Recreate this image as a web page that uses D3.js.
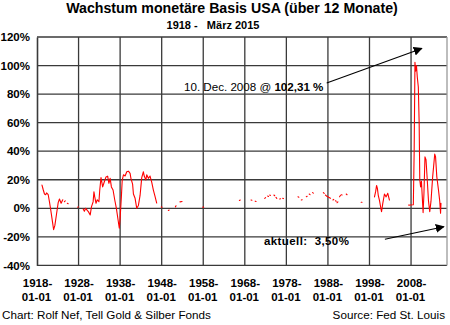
<!DOCTYPE html>
<html>
<head>
<meta charset="utf-8">
<script src="https://cdn.jsdelivr.net/npm/d3@7"></script>
<style>
  html, body { margin: 0; padding: 0; background: #fff; }
  svg { display: block; font-family: "Liberation Sans", Arial, sans-serif; }
</style>
</head>
<body>
<svg id="chart" width="450" height="325"></svg>
<script>
// Year-over-year growth of the US monetary base, in percent.
// null marks a break in the published series.
const years = [
  1919.2, 1919.5, 1919.8, 1920.1, 1920.3, 1920.7, 1921.0, 1921.3, 1921.7, 1922.0,
  1922.3, 1922.7, 1923.1, 1923.4, 1923.8, 1924.2, null,
  1924.6, 1924.8, null,
  1925.3, 1925.5, null,
  1927.8, 1927.95, null,
  1929.1, 1929.4, 1929.7, 1930.1, 1930.4, 1930.8, 1931.1, 1931.5, 1931.7, 1931.9,
  1932.2, 1932.5, 1932.9, 1933.1, 1933.4, 1933.8, 1934.2, 1934.6, 1935.0, 1935.3,
  1935.6, 1935.9, 1936.3, 1936.7, 1937.1, 1937.5, 1937.8, 1938.0, 1938.3, 1938.5,
  1938.8, 1939.2, 1939.6, 1940.0, 1940.4, 1940.6, 1941.0, 1941.2, 1941.6, 1942.0,
  1942.4, 1942.8, 1943.2, 1943.6, 1943.8, 1944.2, 1944.4, 1944.8, 1945.2, 1945.6,
  1946.0, 1946.4, 1946.8, null,
  1947.9, 1948.1, null,
  1949.6, 1949.8, null,
  1951.3, 1951.45, null,
  1952.4, 1952.9, null,
  1957.9, 1958.1, null,
  1966.7, 1966.9, null,
  1969.5, 1969.7, null,
  1970.5, 1970.7, null,
  1972.8, 1973.0, null,
  1973.5, 1973.7, null,
  1974.0, 1974.15, null,
  1975.0, 1975.2, null,
  1975.5, 1975.7, null,
  1976.4, 1976.6, null,
  1977.1, 1977.3, null,
  1980.8, 1981.0, null,
  1981.6, 1981.8, null,
  1982.8, 1983.0, null,
  1983.5, 1983.7, null,
  1984.3, 1984.5, null,
  1986.9, 1987.1, null,
  1987.4, 1987.7, 1988.0, 1988.3, 1988.6, null,
  1989.2, 1989.4, null,
  1989.8, 1990.0, null,
  1990.2, 1990.4, null,
  1990.8, 1991.0, null,
  1991.2, 1991.4, null,
  1992.4, 1992.6, null,
  1996.0, 1996.2, null,
  1999.2, 1999.5, 1999.7, 1999.9, 2000.1, 2000.4, 2000.8, 2000.9, 2001.2, 2001.6,
  2002.0, 2002.4, 2002.8, null,
  2007.4, 2007.6, null,
  2007.8, 2008.55, 2008.75, 2008.94, 2009.1, 2009.3, 2009.5, 2009.75, 2009.95, 2010.1,
  2010.3, 2010.5, 2010.7, 2010.9, 2011.1, 2011.35, 2011.6, 2011.9, 2012.2, 2012.5,
  2012.8, 2013.2, 2013.7, 2013.9, 2014.2, 2014.6, 2014.9, 2015.1, 2015.2
];
const growth = [
  16.3, 13, 10, 9.5, 10.8, 9.5, 4.5, -1, -9, -15,
  -12, -4, 4, 6.5, 3.5, 6, null,
  4.6, 5.2, null,
  3.5, 3.2, null,
  0.8, 1.0, null,
  -0.5, -2, 0, -1.5, -2.5, -4.7, 1, 4.5, 11.5, 8,
  3.5, 6, 4.6, 12.8, 21.5, 15, 18.6, 22, 22.5, 17.5,
  21, 15, 12.8, 6, 0, -8, -14, -7, 8, 19.5,
  23.5, 22.6, 25.6, 26, 24.5, 21, 17, 10, 7, 0,
  2, 9, 21.5, 25.6, 22.6, 19.8, 23.5, 21, 22.6, 18.4,
  12.8, 8.4, 3.7, null,
  1, 0.8, null,
  -1.5, -1.2, null,
  1, 1.8, null,
  4.5, 4.8, null,
  0.8, 0.8, null,
  5.5, 5.8, null,
  5.8, 5.6, null,
  5, 4.8, null,
  7, 7.5, null,
  8.6, 8.3, null,
  9.3, 9, null,
  9.3, 8.8, null,
  7.7, 7, null,
  6.5, 6.7, null,
  7, 6.8, null,
  8.1, 7.8, null,
  5.8, 6, null,
  8.1, 8.4, null,
  10, 9.6, null,
  11, 10.6, null,
  11, 10.5, null,
  9.3, 8.5, 8.1, 7.5, 7, null,
  5.8, 6.2, null,
  5.3, 5, null,
  3.9, 4.5, null,
  8.1, 9, null,
  9.5, 9.3, null,
  10, 9.5, null,
  4.2, 4.2, null,
  8, 12, 16, 14, 9.3, 5.6, -1, -2.4, 3.5, 10,
  8, 10.5, 5.8, null,
  2.3, 2.2, null,
  2.3, 2.5, 40, 102.31, 96, 100, 92, 85, 60, 20,
  15, 19, 8, -3, 10, 36, 34, 20, 5, -2.4,
  5, 22, 38, 36, 22, 12.8, 5, -3.5, 3.5
];

const yTicks = [-40, -20, 0, 20, 40, 60, 80, 100, 120];
const xTickYears = [1918, 1928, 1938, 1948, 1958, 1968, 1978, 1988, 1998, 2008];

const titleText = "Wachstum monetäre Basis USA (über 12 Monate)";
const subtitleText = "1918 -   März 2015";
const creditText = "Chart: Rolf Nef, Tell Gold & Silber Fonds";
const sourceText = "Source: Fed St. Louis";

const peakValue = 102.31;
const latestValue = 3.5;

const svg = d3.select("#chart");
const plot = { left: 37, right: 447, top: 37, bottom: 265.4 };

const x = d3.scaleLinear().domain([1918, 2016.65]).range([plot.left, plot.right]);
const y = d3.scaleLinear().domain([-40, 120]).range([plot.bottom, plot.top]);

// Title block
svg.append("text").attr("x", 232).attr("y", 12.5).attr("text-anchor", "middle")
  .attr("font-size", 14.2).attr("font-weight", "bold").attr("fill", "#000").text(titleText);
svg.append("text").attr("x", 213).attr("y", 28.5).attr("text-anchor", "middle")
  .attr("font-size", 11).attr("font-weight", "bold").attr("fill", "#000")
  .style("white-space", "pre").text(subtitleText);

// Grid
const grid = svg.append("g");
grid.selectAll("line.h").data(yTicks).join("line")
  .attr("x1", plot.left).attr("x2", plot.right)
  .attr("y1", d => y(d)).attr("y2", d => y(d))
  .attr("stroke", "#3a3a3a").attr("stroke-width", 1.3);
grid.selectAll("line.v").data(xTickYears.slice(1)).join("line")
  .attr("x1", d => x(d)).attr("x2", d => x(d))
  .attr("y1", plot.top).attr("y2", plot.bottom)
  .attr("stroke", "#3a3a3a").attr("stroke-width", 1.3);
// Plot frame on the right
svg.append("line").attr("x1", plot.right).attr("x2", plot.right)
  .attr("y1", plot.top).attr("y2", plot.bottom)
  .attr("stroke", "#9a9a9a").attr("stroke-width", 1.3);

// Y axis
const yAxis = svg.append("g").attr("transform", `translate(${plot.left},0)`)
  .call(d3.axisLeft(y).tickValues(yTicks).tickSize(0).tickPadding(7).tickFormat(d => d + "%"));
yAxis.select(".domain").attr("stroke", "#3a3a3a").attr("stroke-width", 1.6);
yAxis.selectAll("text").attr("font-size", 11.5).attr("font-weight", "bold")
  .attr("fill", "#000").attr("font-family", "Liberation Sans, Arial, sans-serif");

// X axis with two-line date labels
const xAxis = svg.append("g").attr("transform", `translate(0,${plot.bottom})`)
  .call(d3.axisBottom(x).tickValues(xTickYears).tickSize(0).tickFormat(""));
xAxis.select(".domain").remove();
xAxis.selectAll(".tick").each(function(d) {
  const t = d3.select(this).append("text").attr("fill", "#000")
    .attr("font-size", 11.5).attr("font-weight", "bold")
    .attr("font-family", "Liberation Sans, Arial, sans-serif")
    .attr("text-anchor", "middle");
  t.append("tspan").attr("x", 0).attr("y", 22).text(d + "-");
  t.append("tspan").attr("x", -1).attr("y", 35.5).text("01-01");
});

// Growth series
const pts = years.map((yr, i) => ({ yr, v: growth[i] }));
const line = d3.line()
  .defined(d => d.yr !== null && d.v !== null)
  .x(d => x(d.yr)).y(d => y(d.v));
svg.append("path").datum(pts).attr("d", line)
  .attr("fill", "none").attr("stroke", "#ff0000").attr("stroke-width", 1.1)
  .attr("stroke-linejoin", "round").attr("stroke-linecap", "round");

// Annotations
const defs = svg.append("defs");
defs.append("marker").attr("id", "head").attr("viewBox", "0 0 10 10")
  .attr("refX", 9).attr("refY", 5).attr("markerWidth", 9).attr("markerHeight", 9)
  .attr("markerUnits", "userSpaceOnUse").attr("orient", "auto")
  .append("path").attr("d", "M0,0 L10,5 L0,10 Z").attr("fill", "#000");

const peakLabel = svg.append("text").attr("x", 184).attr("y", 91)
  .attr("font-size", 11.6).attr("fill", "#000");
peakLabel.append("tspan").text("10. Dec. 2008 @ ");
peakLabel.append("tspan").attr("font-weight", "bold")
  .text(d3.format(".2f")(peakValue).replace(".", ",") + " %");
svg.append("line")
  .attr("x1", x(1987.7)).attr("y1", y(87.8))
  .attr("x2", x(2010.6)).attr("y2", y(112))
  .attr("stroke", "#000").attr("stroke-width", 1.1).attr("marker-end", "url(#head)");

svg.append("text").attr("x", 264).attr("y", 245)
  .attr("font-size", 11.5).attr("font-weight", "bold").attr("fill", "#000")
  .attr("letter-spacing", 0.4).style("white-space", "pre")
  .text("aktuell:  " + d3.format(".2f")(latestValue).replace(".", ",") + "%");
svg.append("line")
  .attr("x1", x(2001.7)).attr("y1", y(-21.7))
  .attr("x2", x(2015.9)).attr("y2", y(-12.9))
  .attr("stroke", "#000").attr("stroke-width", 1.1).attr("marker-end", "url(#head)");

// Footer
svg.append("text").attr("x", 2).attr("y", 318.5).attr("font-size", 11.7)
  .attr("fill", "#000").text(creditText);
svg.append("text").attr("x", 445).attr("y", 318.5).attr("text-anchor", "end")
  .attr("font-size", 11.7).attr("fill", "#000").text(sourceText);
</script>
</body>
</html>
